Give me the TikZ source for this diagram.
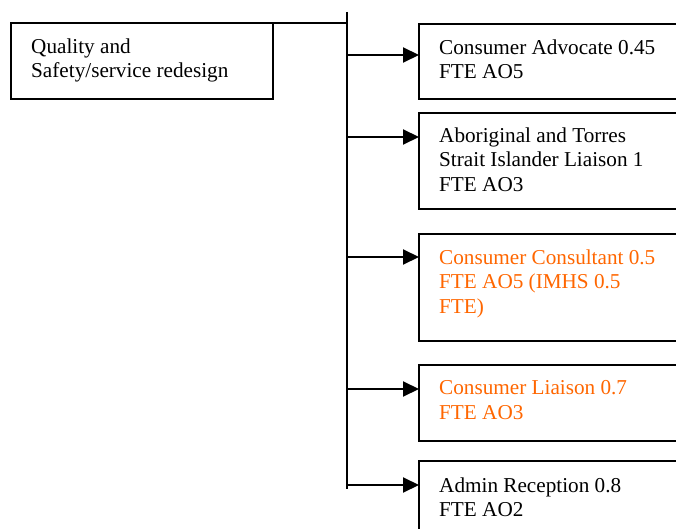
\documentclass[tikz,border=0pt]{standalone}
\usepackage{fontspec}
\setmainfont{Liberation Serif}
\usetikzlibrary{arrows.meta}
\definecolor{roleorange}{RGB}{255,102,0}
\begin{document}
\begin{tikzpicture}[x=1pt,y=-1pt,
  box/.style={draw, line width=2pt, rectangle, inner sep=0pt, outer sep=0pt, anchor=north west},
  txt/.style={anchor=north west, inner sep=0pt, align=left, font=\fontsize{21.2}{24.5}\selectfont},
  link/.style={line width=2pt},
  feed/.style={line width=2pt, -{Triangle[length=16pt,width=15pt]}}]
\useasboundingbox (0,0) rectangle (676,529);
\clip (0,0) rectangle (676,529);

% lead unit
\node[box, minimum width=262pt, minimum height=76pt] (lead) at (11,23) {};
\node[txt] (leadtxt) at (31,38.5) {Quality and\\Safety/service redesign};

% positions reporting to it (boxes run past the right edge)
\node[box, minimum width=280pt, minimum height=75pt]  (b1) at (419,24)  {};
\node[box, minimum width=280pt, minimum height=96pt]  (b2) at (419,113) {};
\node[box, minimum width=280pt, minimum height=107pt] (b3) at (419,234) {};
\node[box, minimum width=280pt, minimum height=76pt]  (b4) at (419,365) {};
\node[box, minimum width=280pt, minimum height=100pt] (b5) at (419,461) {};

\node[txt] (t1) at (439,39.5)  {Consumer Advocate 0.45\\FTE AO5};
\node[txt] (t2) at (439,127.5) {Aboriginal and Torres\\Strait Islander Liaison 1\\FTE AO3};
\node[txt, text=roleorange] (t3) at (439,249.5) {Consumer Consultant 0.5\\FTE AO5 (IMHS 0.5\\FTE)};
\node[txt, text=roleorange] (t4) at (439,380.5) {Consumer Liaison 0.7\\FTE AO3};
\node[txt] (t5) at (439,477.5) {Admin Reception 0.8\\FTE AO2};

% trunk line
\coordinate (ttop) at (347,12);
\coordinate (tbot) at (347,489);
\draw[link] (ttop) -- (tbot);
\draw[link] (lead.north east) -- (lead.north east -| ttop);

% branch points on the trunk
\coordinate (a1) at (347,55);
\coordinate (a2) at (347,137);
\coordinate (a3) at (347,257);
\coordinate (a4) at (347,389);
\coordinate (a5) at (347,485);
\draw[feed] (a1) -- (a1 -| b1.west);
\draw[feed] (a2) -- (a2 -| b2.west);
\draw[feed] (a3) -- (a3 -| b3.west);
\draw[feed] (a4) -- (a4 -| b4.west);
\draw[feed] (a5) -- (a5 -| b5.west);
\end{tikzpicture}
\end{document}
